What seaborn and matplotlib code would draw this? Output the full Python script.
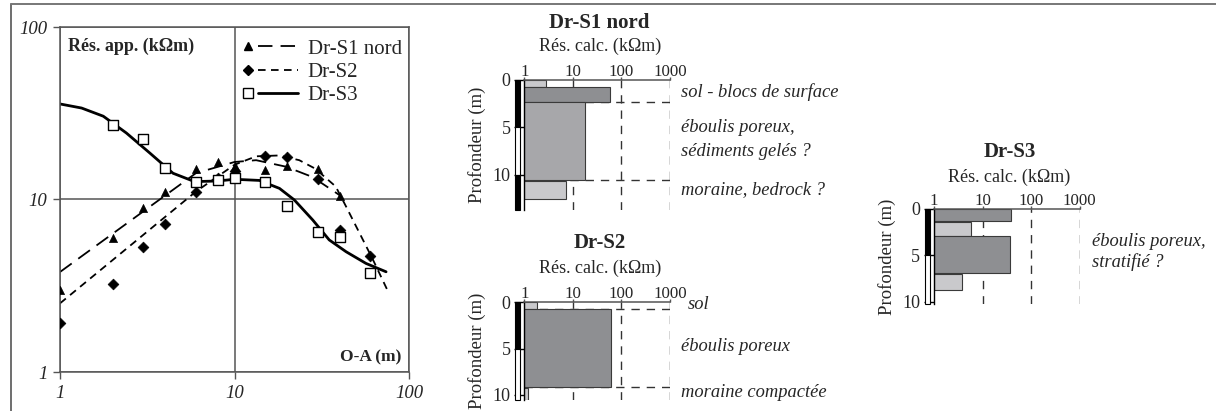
import numpy as np
import pandas as pd
import matplotlib
matplotlib.use("Agg")
import matplotlib.pyplot as plt
import seaborn as sns
from matplotlib.lines import Line2D
from matplotlib.patches import Rectangle
from matplotlib.legend_handler import HandlerBase
from matplotlib.ticker import NullLocator

# ---------------- data : apparent resistivity soundings ----------------
series_names = ["Dr-S1 nord", "Dr-S2", "Dr-S3"]

oa_s1 = [1, 2, 3, 4, 6, 8, 10, 15, 20, 30, 40]
rho_s1 = [3.0, 6.0, 8.9, 11.1, 15.1, 16.4, 15.7, 14.9, 15.6, 15.1, 10.5]
oa_s2 = [1, 2, 3, 4, 6, 8, 10, 15, 20, 30, 40, 60]
rho_s2 = [1.92, 3.25, 5.3, 7.2, 11.0, 13.3, 14.6, 17.9, 17.6, 13.1, 6.7, 4.7]
oa_s3 = [2, 3, 4, 6, 8, 10, 15, 20, 30, 40, 60]
rho_s3 = [27.2, 22.4, 15.2, 12.7, 12.9, 13.3, 12.6, 9.2, 6.5, 6.1, 3.75]

# model curves
mod_oa_s1 = [1, 6, 10, 13.3, 19.7, 28, 40]
mod_rho_s1 = [3.8, 14.2, 16.5, 16.9, 15.5, 13.5, 10.6]
mod_oa_s2 = [1, 6, 10, 13.3, 18, 23.5, 29, 38, 43.6, 52, 62, 75]
mod_rho_s2 = [2.5, 11.1, 15.9, 17.8, 18.0, 16.9, 15.1, 11.9, 9.1, 6.4, 4.5, 3.0]
mod_oa_s3 = [1, 1.33, 1.77, 2.4, 3.27, 4.44, 5.9, 8, 10, 13.9, 15, 18.1, 22,
             28.1, 34.9, 43.6, 56.7, 73.9]
mod_rho_s3 = [35.8, 33.9, 30.4, 24.3, 18.6, 14.2, 12.7, 12.8, 13.1, 12.9, 12.5,
              11.6, 9.95, 7.6, 5.83, 4.98, 4.26, 3.81]

main_ticks = [1, 10, 100]
main_ticklabels = ["1", "10", "100"]

# ---------------- data : inverted layer models ----------------
res_ticks = [1, 10, 100, 1000]
res_ticklabels = ["1", "10", "100", "1000"]
depth_ticks = [0, 5, 10]
depth_ticklabels = ["0", "5", "10"]

s1_top = [0, 0.77, 2.28, 10.6]
s1_bot = [0.7, 2.28, 10.53, 12.56]
s1_res = [2.8, 58, 17.7, 7.2]
s1_shade = ["light", "dark", "mid", "light"]
s1_bounds = [2.28, 10.53]
s1_notes = ["sol - blocs de surface", "éboulis poreux,", "sédiments gelés ?",
            "moraine, bedrock ?"]

s2_top = [0, 0.72, 9.25]
s2_bot = [0.72, 9.1, 10.5]
s2_res = [1.85, 60, 1.2]
s2_shade = ["light", "dark", "light"]
s2_bounds = [0.72, 9.1]
s2_notes = ["sol", "éboulis poreux", "moraine compactée"]

s3_top = [0, 1.45, 3.0, 7.0]
s3_bot = [1.3, 2.93, 6.9, 8.8]
s3_res = [39, 5.75, 36, 3.8]
s3_shade = ["dark", "light", "dark", "light"]
s3_bounds = []
s3_notes = ["éboulis poreux,", "stratifié ?"]

# ---------------- style ----------------
sns.set_style("white")
plt.rcParams["font.family"] = ["Liberation Serif", "DejaVu Serif"]
plt.rcParams["mathtext.fontset"] = "stix"

W, H = 1216, 411
fig = plt.figure(figsize=(W / 100, H / 100), dpi=100)

shade_colors = {"light": "#c9c9cc", "mid": "#a7a7aa", "dark": "#8e8f92"}
GRID = "#555555"


class MarkerThenLine(HandlerBase):
    """Legend key: marker on the left, separate line segment on the right."""

    def create_artists(self, legend, orig_handle, xdescent, ydescent, width,
                       height, fontsize, trans):
        mk, ln = orig_handle
        x0 = -xdescent
        yc = -ydescent + height / 2
        m = Line2D([x0 + 0.17 * width], [yc])
        m.update_from(mk)
        m.set_linestyle("none")
        l = Line2D([x0 + 0.34 * width, x0 + width], [yc, yc])
        l.update_from(ln)
        l.set_marker("")
        for art in (m, l):
            art.set_transform(trans)
        return [l, m]


# ---------------- main sounding plot ----------------
ax = fig.add_axes([60 / W, 1 - 372 / H, 349 / W, 345 / H])
ax.set_xscale("log")
ax.set_yscale("log")

s1_dash = (0, (8, 4.5))
s2_dash = (0, (4.2, 3.0))

sns.lineplot(x=mod_oa_s1, y=mod_rho_s1, ax=ax, color="black", lw=1.3,
             linestyle=s1_dash, sort=False, estimator=None, zorder=2)
sns.lineplot(x=mod_oa_s2, y=mod_rho_s2, ax=ax, color="black", lw=1.3,
             linestyle=s2_dash, sort=False, estimator=None, zorder=2)
sns.lineplot(x=mod_oa_s3, y=mod_rho_s3, ax=ax, color="black", lw=2.0,
             sort=False, estimator=None, zorder=2)

sns.scatterplot(x=oa_s1, y=rho_s1, ax=ax, marker="^", s=34, color="black",
                edgecolor="black", linewidth=0.5, zorder=4)
sns.scatterplot(x=oa_s2, y=rho_s2, ax=ax, marker="D", s=30, color="black",
                edgecolor="black", linewidth=0.5, zorder=4)
sns.scatterplot(x=oa_s3, y=rho_s3, ax=ax, marker="s", s=62, facecolor="white",
                edgecolor="black", linewidth=1.0, zorder=5)

ax.set_xlim(1, 100)
ax.set_ylim(1, 100)
ax.xaxis.set_minor_locator(NullLocator())
ax.yaxis.set_minor_locator(NullLocator())
ax.set_xticks(main_ticks, labels=main_ticklabels, fontstyle="italic", fontsize=13.5)
ax.set_yticks(main_ticks, labels=main_ticklabels, fontstyle="italic", fontsize=13.5)
ax.tick_params(direction="out", length=5, width=1, color=GRID, pad=4,
               bottom=True, left=True, top=False, right=False)
ax.grid(True, which="major", color=GRID, lw=1.1)
for sp in ax.spines.values():
    sp.set_visible(True)
    sp.set_color(GRID)
    sp.set_linewidth(1.1)
ax.set_xlabel("")
ax.set_ylabel("")

ax.text(0.024, 0.945, "Rés. app. (kΩm)", transform=ax.transAxes, ha="left",
        va="center", fontsize=13, fontweight="bold")
ax.text(0.979, 0.043, "O-A (m)", transform=ax.transAxes, ha="right",
        va="center", fontsize=12.5, fontweight="bold")

h1 = (Line2D([], [], marker="^", ls="none", color="black", ms=5.5),
      Line2D([], [], ls=s1_dash, color="black", lw=1.3))
h2 = (Line2D([], [], marker="D", ls="none", color="black", ms=5),
      Line2D([], [], ls=s2_dash, color="black", lw=1.3))
h3 = (Line2D([], [], marker="s", ls="none", markerfacecolor="white",
             markeredgecolor="black", color="black", ms=7, mew=1.0),
      Line2D([], [], ls="-", color="black", lw=2.0))
leg = ax.legend([h1, h2, h3], series_names,
                handler_map={tuple: MarkerThenLine()},
                loc="upper right", bbox_to_anchor=(0.979, 0.965),
                frameon=False, fontsize=15, handlelength=2.85,
                handletextpad=0.48, labelspacing=0.18, borderaxespad=0,
                borderpad=0)


# ---------------- layer model panels ----------------
def profile(rect, top, bot, res, shade, bounds, dmax, notes, note_depths,
            note_xs, title, title_y, sub_y, bar3):
    a = fig.add_axes(rect)
    a.set_xscale("log")
    for v in res_ticks[1:]:
        a.axvline(v, color="#333333", lw=1.0, ls=(0, (6, 5)), zorder=0)
    for b in bounds:
        a.hlines(b, 1, 1000, color="#333333", lw=1.0, ls=(0, (6, 5)), zorder=0)
    a.barh(y=top, width=np.array(res) - 1, left=1,
           height=np.array(bot) - np.array(top), align="edge",
           color=[shade_colors[s] for s in shade], edgecolor="#3a3a3a",
           linewidth=0.8, zorder=2)
    a.set_xlim(1, 1000)
    a.set_ylim(dmax, 0)
    a.xaxis.set_minor_locator(NullLocator())
    a.xaxis.tick_top()
    a.set_xticks(res_ticks, labels=res_ticklabels, fontsize=12.2)
    a.set_yticks(depth_ticks, labels=depth_ticklabels, fontsize=13)
    a.tick_params(axis="x", direction="out", length=2, width=1, color="#555555",
                  pad=-2, top=True, bottom=False)
    a.tick_params(axis="y", direction="out", length=7, width=1, color="black",
                  pad=3, left=True)
    for name, sp in a.spines.items():
        sp.set_visible(name in ("top", "left"))
    a.spines["top"].set_color("#555555")
    a.spines["top"].set_linewidth(1.1)
    a.spines["left"].set_color("black")
    a.spines["left"].set_linewidth(1.0)
    a.set_ylabel("Profondeur (m)", fontsize=13.5)
    a.yaxis.set_label_coords(-0.262, 0.5)
    a.grid(False)
    # alternating black / white depth scale bar
    tr = a.get_yaxis_transform()
    for (y0, y1, fc) in bar3:
        a.add_patch(Rectangle((-0.064, y0), 0.035, y1 - y0, transform=tr,
                              facecolor=fc, edgecolor="black", lw=0.8,
                              clip_on=False, zorder=3))
    for txt, d, nx in zip(notes, note_depths, note_xs):
        a.text(nx, d, txt, transform=tr, ha="left", va="center",
               fontsize=13.3, fontstyle="italic", clip_on=False)
    cx = rect[0] + rect[2] / 2 + 2.5 / W
    fig.text(cx, 1 - title_y / H, title, ha="center", va="center",
             fontsize=15, fontweight="bold")
    fig.text(cx, 1 - sub_y / H, "Rés. calc. (kΩm)", ha="center", va="center",
             fontsize=13)
    return a


px_w = 145.7
profile([524.3 / W, 1 - 210 / H, px_w / W, 130 / H], s1_top, s1_bot, s1_res,
        s1_shade, s1_bounds, 13.7, s1_notes, [1.23, 5.02, 7.55, 11.58],
        [1.073] * 4, "Dr-S1 nord", 23.3, 46.7,
        [(0, 5, "black"), (5, 10, "white"), (10, 13.7, "black")])
profile([524.3 / W, 1 - 399.6 / H, px_w / W, 97.3 / H], s2_top, s2_bot, s2_res,
        s2_shade, s2_bounds, 10.5, s2_notes, [0.2, 4.79, 9.68],
        [1.12, 1.073, 1.073], "Dr-S2", 243.3, 268.3,
        [(0, 5, "black"), (5, 10.5, "white")])
profile([934 / W, 1 - 304.3 / H, px_w / W, 95.8 / H], s3_top, s3_bot, s3_res,
        s3_shade, s3_bounds, 10.3, s3_notes, [3.57, 5.72],
        [1.084, 1.084], "Dr-S3", 151.7, 177.3,
        [(0, 5, "black"), (5, 10.3, "white")])

# figure frame (top and left edges)
fig.add_artist(Line2D([11 / W, 11 / W], [0, 1 - 4 / H], transform=fig.transFigure,
                      color="#555555", lw=1.2))
fig.add_artist(Line2D([11 / W, 1], [1 - 4 / H, 1 - 4 / H], transform=fig.transFigure,
                      color="#777777", lw=1.4))

fig.savefig("out.png", dpi=100)
